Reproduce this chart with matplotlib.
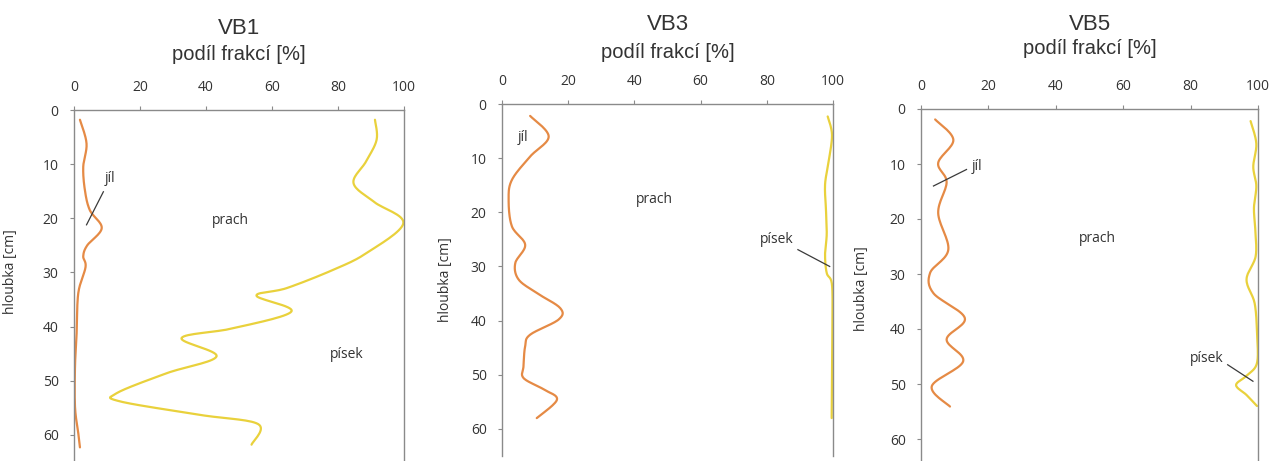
import matplotlib
matplotlib.use('Agg')
import matplotlib.pyplot as plt
import numpy as np

plt.rcParams['font.family'] = ['Open Sans', 'DejaVu Sans']

# hloubka [cm] / podil frakci [%]
vb1_jil_depth = [1.8, 6.2, 10.5, 14.8, 18.5, 21.8, 25.0, 27.0, 29.0, 33.8, 41.2, 47.4, 54.8, 59.7, 62.3]
vb1_jil = [1.8, 3.8, 2.8, 3.3, 4.8, 8.4, 4.0, 2.8, 3.5, 1.3, 0.8, 0.3, 0.3, 1.3, 1.8]
vb1_pisek_depth = [1.8, 5.5, 9.5, 13.5, 17.0, 20.9, 26.4, 29.5, 32.9, 34.3, 37.2, 40.3, 42.1,
                   45.5, 48.6, 52.3, 53.8, 56.3, 58.0, 61.8]
vb1_pisek = [91.2, 91.7, 88.5, 84.7, 91.0, 99.8, 88.7, 78.6, 64.4, 55.3, 65.9, 48.3, 32.6,
             43.2, 28.1, 12.9, 13.9, 38.2, 55.8, 53.8]

vb3_jil_depth = [2.2, 6.0, 9.7, 14.0, 17.7, 22.6, 26.0, 29.4, 32.4, 34.9, 37.7, 39.8, 42.6,
                 44.7, 48.4, 50.6, 52.7, 54.6, 58.0]
vb3_jil = [8.5, 14.1, 8.5, 3.0, 2.0, 3.0, 7.0, 4.0, 5.0, 10.5, 17.6, 17.1, 8.5,
           7.0, 6.5, 6.5, 12.6, 16.6, 10.5]
vb3_pisek_depth = [2.3, 5.7, 10.6, 14.9, 19.8, 24.1, 27.8, 31.2, 33.4, 41.4, 50.0, 58.0]
vb3_pisek = [98.4, 99.7, 98.7, 97.6, 97.9, 98.1, 97.6, 98.1, 99.7, 99.8, 99.7, 99.6]

vb5_jil_depth = [1.9, 5.6, 9.8, 13.3, 18.9, 25.6, 29.8, 33.5, 38.0, 41.9, 45.9, 50.4, 54.1]
vb5_jil = [4.2, 9.6, 5.1, 7.6, 5.1, 8.1, 2.7, 3.7, 13.0, 7.6, 12.5, 3.2, 8.6]
vb5_pisek_depth = [2.2, 6.3, 10.5, 14.0, 18.0, 22.0, 26.8, 31.0, 35.3, 40.7, 46.2, 48.5,
                   50.2, 52.0, 54.0]
vb5_pisek = [97.8, 99.5, 98.6, 99.5, 98.8, 99.2, 99.3, 96.6, 99.0, 99.7, 99.7, 96.6,
             93.5, 96.6, 99.7]

names = ['VB1', 'VB3', 'VB5']
x_ticks = [0, 20, 40, 60, 80, 100]
y_ticks = [0, 10, 20, 30, 40, 50, 60]

W, H = 1272, 461

# layout in pixels: left, right, top, ylim bottom, ylabel x/y (axes frac), title offsets (px above axis)
layout = [
    dict(l=74, r=404, t=110, yb=462, ymax=65, ylab=(-0.17, 0.54), xl=55, ti=82),
    dict(l=502, r=833, t=104, yb=456, ymax=65, ylab=(-0.148, 0.50), xl=51, ti=79),
    dict(l=921, r=1258, t=109, yb=461, ymax=64, ylab=(-0.153, 0.49), xl=60, ti=84),
]

# label positions (value, depth) and leader lines
labels = [
    dict(jil=(11, 12.7), prach=(47.3, 20.4), pisek=(82.6, 45.2),
         jil_line=((8.9, 15.1), (3.8, 21.2)), pisek_line=None),
    dict(jil=(6.4, 6.2), prach=(46, 17.7), pisek=(83, 25.0),
         jil_line=None, pisek_line=((89.4, 26.9), (99, 30.0))),
    dict(jil=(16.5, 10.4), prach=(52.3, 23.6), pisek=(84.7, 45.3),
         jil_line=((13.5, 11.0), (3.7, 14.0)), pisek_line=((91, 46.5), (98.5, 49.5))),
]

series = [
    (vb1_jil_depth, vb1_jil, vb1_pisek_depth, vb1_pisek),
    (vb3_jil_depth, vb3_jil, vb3_pisek_depth, vb3_pisek),
    (vb5_jil_depth, vb5_jil, vb5_pisek_depth, vb5_pisek),
]


def smooth(x, y, n=16):
    # catmull-rom, like the excel smoothed line
    pts = np.column_stack([x, y]).astype(float)
    p = np.vstack([pts[0], pts, pts[-1]])
    t = np.linspace(0, 1, n, endpoint=False)[:, None]
    out = []
    for i in range(1, len(p) - 2):
        p0, p1, p2, p3 = p[i - 1], p[i], p[i + 1], p[i + 2]
        c = 0.5 * (2 * p1 + (-p0 + p2) * t + (2 * p0 - 5 * p1 + 4 * p2 - p3) * t ** 2
                   + (-p0 + 3 * p1 - 3 * p2 + p3) * t ** 3)
        out.append(c)
    out.append(pts[-1:])
    res = np.vstack(out)
    return res[:, 0], res[:, 1]


orange = '#E58A45'
yellow = '#E9D13C'
spine_c = '#8a8a8a'
txt = '#333333'
head_font = ['Liberation Sans', 'DejaVu Sans']

fig = plt.figure(figsize=(W / 100, H / 100), dpi=100)

for name, lo, lab, (jd, jv, pd, pv) in zip(names, layout, labels, series):
    ax = fig.add_axes([lo['l'] / W, 1 - lo['yb'] / H, (lo['r'] - lo['l']) / W, (lo['yb'] - lo['t']) / H])
    sx, sy = smooth(jv, jd)
    ax.plot(sx, sy, color=orange, lw=1.6, solid_capstyle='round')
    sx, sy = smooth(pv, pd)
    ax.plot(sx, sy, color=yellow, lw=1.6, solid_capstyle='round')

    ax.set_xlim(0, 100)
    ax.set_ylim(lo['ymax'], 0)
    ax.xaxis.tick_top()
    ax.set_xticks(x_ticks)
    ax.set_yticks(y_ticks)
    ax.tick_params(axis='both', direction='out', length=3, width=0.8, color=spine_c,
                   labelsize=10, labelcolor=txt, pad=8)
    ax.tick_params(axis='x', top=True, bottom=False)
    ax.tick_params(axis='y', right=False)
    for s in ['top', 'left', 'right']:
        ax.spines[s].set_color(spine_c)
        ax.spines[s].set_linewidth(1.0)
    ax.spines['bottom'].set_visible(False)

    ax.set_ylabel('hloubka [cm]', fontsize=10, color=txt)
    ax.yaxis.set_label_coords(*lo['ylab'])

    ax.annotate('podíl frakcí [%]', xy=(0.5, 1), xycoords='axes fraction',
                xytext=(0, lo['xl'] * 0.72), textcoords='offset points',
                ha='center', va='center', fontsize=14.5, color=txt, family=head_font)
    ax.annotate(name, xy=(0.5, 1), xycoords='axes fraction',
                xytext=(0, lo['ti'] * 0.72), textcoords='offset points',
                ha='center', va='center', fontsize=16, color=txt, family=head_font)

    ax.text(*lab['jil'], 'jíl', fontsize=10, color=txt, ha='center', va='center')
    ax.text(*lab['prach'], 'prach', fontsize=10, color=txt, ha='center', va='center')
    ax.text(*lab['pisek'], 'písek', fontsize=10, color=txt, ha='center', va='center')
    for key in ['jil_line', 'pisek_line']:
        if lab[key] is not None:
            (x0, y0), (x1, y1) = lab[key]
            ax.plot([x0, x1], [y0, y1], color='#3a3a3a', lw=0.9)

fig.savefig('out.png', dpi=100)
